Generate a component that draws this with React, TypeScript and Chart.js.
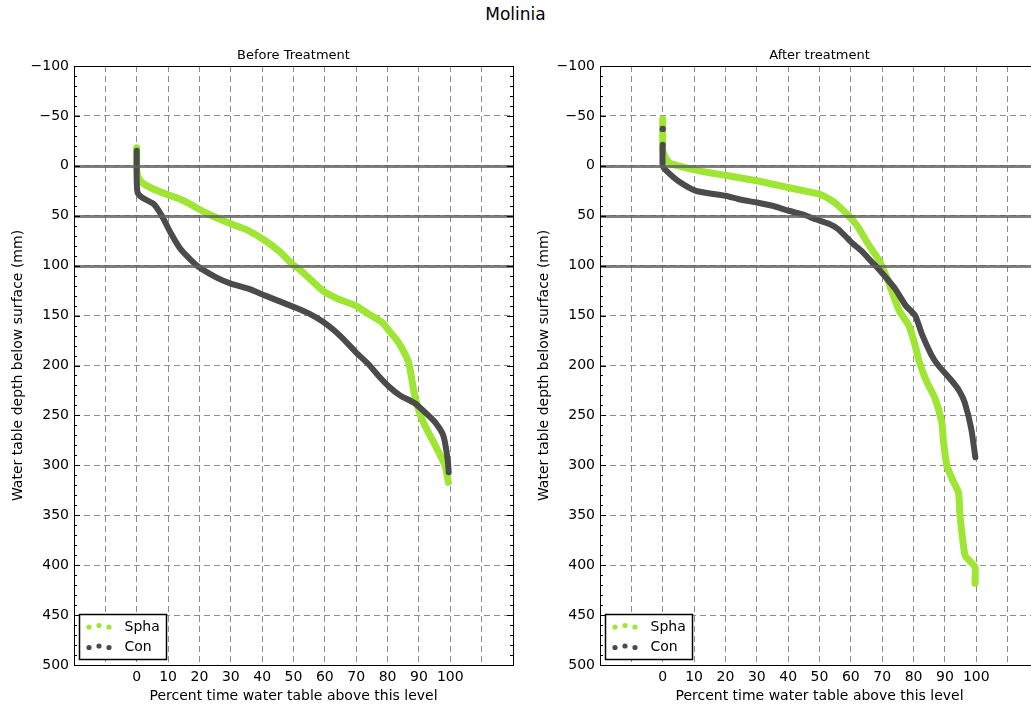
import React, { useEffect, useRef } from "react";
import { Chart, registerables } from "chart.js";

Chart.register(...registerables);

const SUPTITLE = "Molinia";
const PANEL_TITLES = ["Before Treatment", "After treatment"];
const SERIES_LABELS = ["Spha", "Con"];
const SERIES_COLORS = ["#9ee534", "#4b4b4b"];
const REF_LEVELS = [0, 50, 100];
const X_LABEL = "Percent time water table above this level";
const Y_LABEL = "Water table depth below surface (mm)";

// [percent time, depth mm]
const sphaBefore: [number, number | null][] = [
  [0, -18], [0, -8], [0, 2], [0.3, 10], [1.8, 17], [5.5, 23.5], [10, 29], [15, 35], [22, 47],
  [30, 58], [35, 64], [41, 75], [45.6, 86], [49.8, 99], [52, 104], [55.5, 114], [59.3, 125],
  [64, 133], [69.8, 140], [74, 148.5], [78.3, 157], [80.4, 165], [83.5, 177], [86.7, 197],
  [88.5, 228], [89.5, 240], [91, 254], [93, 267], [95.2, 280], [98.3, 300], [99.4, 317],
];
const conBefore: [number, number | null][] = [
  [0, -15], [0, 0], [0, 15], [0.3, 27], [1.8, 32], [5.5, 38.5], [8, 50], [10.8, 67], [14, 83.5],
  [19.2, 100], [25.5, 112], [30, 118], [36, 123.5], [41, 130], [45, 135], [49.8, 141], [55, 148],
  [59.3, 156], [63, 165], [66.7, 176], [70, 187], [74, 199], [77, 210], [80.4, 221], [84, 230],
  [88.8, 238], [93, 250], [95.2, 257], [97.5, 268], [98.3, 277], [99.2, 295], [99.5, 307],
];
const sphaAfter: [number, number | null][] = [
  [0, -47], [0, -30], [0, -16], [0.6, -10], [2.2, -3], [5, 0], [11.7, 5], [20, 9.5], [30, 15],
  [40.3, 22], [45, 25], [50, 28.5], [54, 35], [56, 40], [59.3, 50], [62, 60], [64.6, 73.5],
  [66.5, 83], [68.9, 94], [70.5, 105], [72.2, 118], [75.4, 145], [78.5, 160], [80.5, 180],
  [81.7, 195], [84, 215], [86.9, 233.5], [89, 257], [89.5, 275], [90.6, 300], [92.5, 315],
  [94.3, 327], [94.8, 350], [95.5, 370], [96.4, 390], [98, 396], [99.6, 402], [99.6, 418],
];
const conAfter: [number, number | null][] = [
  [0, -37], [0, null], [0, -21], [0, 0], [1.2, 5], [5.3, 16], [10.6, 25], [20.1, 30], [24.3, 33.5],
  [29.6, 36.5], [35, 40], [40.2, 45], [45, 49], [48.7, 53.5], [53, 58], [56, 63.5], [60.3, 77],
  [63.3, 85], [66.6, 96], [68.9, 103.5], [71.5, 113], [74.2, 123.5], [77.5, 140], [80.5, 150],
  [82.6, 168], [85.8, 190], [87.9, 200], [92.1, 215], [94.5, 225], [96.3, 237], [98.4, 263.5],
  [99.7, 292],
];

const X_MIN = -20, X_MAX = 120, X_STEP = 10;
const X_LABEL_MIN = 0, X_LABEL_MAX = 100;
const Y_MIN = -100, Y_MAX = 500, Y_STEP = 50, Y_MINOR = 10;

const FONT = "DejaVu Sans";

const toPoints = (arr: [number, number | null][]) => arr.map(([x, y]) => ({ x, y }));

const panelPlugin = {
  id: "panelDecor",
  afterDatasetsDraw(chart: any, _a: any, opts: any) {
    const { ctx, chartArea } = chart;
    const yS = chart.scales.y;
    const { left, right, top, bottom } = chartArea;
    ctx.save();
    // reference lines
    ctx.strokeStyle = "rgba(95,95,95,0.8)";
    ctx.lineWidth = 3;
    REF_LEVELS.forEach((v) => {
      const py = Math.round(yS.getPixelForValue(v)) + 0.5;
      ctx.beginPath();
      ctx.moveTo(left, py);
      ctx.lineTo(right, py);
      ctx.stroke();
    });
    // frame
    ctx.strokeStyle = "#000";
    ctx.lineWidth = 1;
    ctx.strokeRect(Math.round(left) + 0.5, Math.round(top) + 0.5, Math.round(right - left), Math.round(bottom - top));
    // minor ticks on y
    for (let v = Y_MIN; v <= Y_MAX; v += Y_MINOR) {
      const py = Math.round(yS.getPixelForValue(v)) + 0.5;
      const len = v % Y_STEP === 0 ? 6 : 3;
      ctx.beginPath();
      ctx.moveTo(left, py);
      ctx.lineTo(left + len, py);
      ctx.moveTo(right, py);
      ctx.lineTo(right - len, py);
      ctx.stroke();
    }
    // panel title
    ctx.fillStyle = "#000";
    ctx.font = `13px "${FONT}"`;
    ctx.textAlign = "center";
    ctx.textBaseline = "middle";
    ctx.fillText(opts.title, (left + right) / 2, top - 10);
    // legend
    const bx = left + 5.5, bw = 87, bh = 45;
    const by = bottom - 6 - bh + 0.5;
    ctx.fillStyle = "#fff";
    ctx.fillRect(bx, by, bw, bh);
    ctx.strokeStyle = "#000";
    ctx.lineWidth = 1.5;
    ctx.strokeRect(bx, by, bw, bh);
    chart.data.datasets.forEach((ds: any, i: number) => {
      const cy = by + 12.5 + i * 20.5;
      ctx.fillStyle = ds.borderColor;
      [0, 1, 2].forEach((k) => {
        ctx.beginPath();
        ctx.arc(bx + 9.5 + k * 10, cy + (k === 1 ? -1.5 : 0), 2.6, 0, Math.PI * 2);
        ctx.fill();
      });
      ctx.fillStyle = "#000";
      ctx.font = `14px "${FONT}"`;
      ctx.textAlign = "left";
      ctx.textBaseline = "middle";
      ctx.fillText(ds.label, bx + 45, cy);
    });
    ctx.restore();
  },
};

function makeDataset(label: string, color: string, arr: [number, number | null][], width: number, order: number) {
  return {
    label,
    data: toPoints(arr),
    borderColor: color,
    backgroundColor: color,
    borderWidth: width,
    borderCapStyle: "round",
    borderJoinStyle: "round",
    tension: 0.2,
    spanGaps: false,
    order,
    pointBorderWidth: 0,
    pointBackgroundColor: color,
    pointRadius: (c: any) => {
      const d = c.dataset.data;
      const i = c.dataIndex;
      const cur = d[i];
      if (!cur || cur.y == null) return 0;
      const prevGap = i === 0 || d[i - 1].y == null;
      const nextGap = i === d.length - 1 || d[i + 1].y == null;
      return prevGap && nextGap ? 3.2 : 0;
    },
  };
}

function Panel({ title, spha, con, left }: { title: string; spha: any; con: any; left: number }) {
  const ref = useRef<HTMLCanvasElement>(null);
  useEffect(() => {
    const canvas = ref.current!;
    const chart = new Chart(canvas, {
      type: "line",
      data: {
        datasets: [
          makeDataset(SERIES_LABELS[0], SERIES_COLORS[0], spha, 7, 2),
          makeDataset(SERIES_LABELS[1], SERIES_COLORS[1], con, 6, 1),
        ] as any,
      },
      options: {
        animation: false,
        responsive: false,
        events: [],
        layout: { padding: { top: 66, right: 12, bottom: 0, left: 0 } },
        plugins: {
          legend: { display: false },
          tooltip: { enabled: false },
          title: { display: false },
          panelDecor: { title },
        } as any,
        scales: {
          x: {
            type: "linear",
            min: X_MIN,
            max: X_MAX,
            afterFit: (s: any) => { s.height = 41; },
            ticks: {
              stepSize: X_STEP,
              autoSkip: false,
              maxRotation: 0,
              padding: 4,
              color: "#000",
              font: { family: FONT, size: 14 },
              callback: (v: any) => (v >= X_LABEL_MIN && v <= X_LABEL_MAX ? String(v) : ""),
            },
            grid: { color: "rgba(0,0,0,0.45)", lineWidth: 1, drawTicks: false },
            border: { display: false, dash: [6, 4] },
            title: {
              display: true,
              text: X_LABEL,
              color: "#000",
              font: { family: FONT, size: 14 },
              padding: { top: 0, bottom: 1 },
            },
          },
          y: {
            type: "linear",
            reverse: true,
            min: Y_MIN,
            max: Y_MAX,
            afterFit: (s: any) => { s.width = 74; },
            ticks: {
              stepSize: Y_STEP,
              autoSkip: false,
              padding: 5,
              color: "#000",
              font: { family: FONT, size: 14 },
              callback: (v: any) => String(v).replace("-", "\u2212"),
            },
            grid: { color: "rgba(0,0,0,0.45)", lineWidth: 1, drawTicks: false },
            border: { display: false, dash: [6, 4] },
            title: {
              display: true,
              text: Y_LABEL,
              color: "#000",
              font: { family: FONT, size: 14 },
              padding: { top: 10, bottom: 0 },
            },
          },
        },
      } as any,
      plugins: [panelPlugin],
    });
    return () => chart.destroy();
  }, []);
  return (
    <canvas
      ref={ref}
      width={525}
      height={706}
      style={{ position: "absolute", left, top: 0, width: 525, height: 706 }}
    />
  );
}

export default function App() {
  return (
    <div
      style={{
        position: "fixed",
        left: 0,
        top: 0,
        width: 1031,
        height: 706,
        overflow: "hidden",
        background: "#fff",
      }}
    >
      <div
        style={{
          position: "absolute",
          left: 0,
          top: 4,
          width: 1031,
          textAlign: "center",
          fontFamily: FONT,
          fontSize: 17,
          lineHeight: "20px",
          color: "#000",
        }}
      >
        {SUPTITLE}
      </div>
      <Panel title={PANEL_TITLES[0]} spha={sphaBefore} con={conBefore} left={0} />
      <Panel title={PANEL_TITLES[1]} spha={sphaAfter} con={conAfter} left={526} />
    </div>
  );
}
